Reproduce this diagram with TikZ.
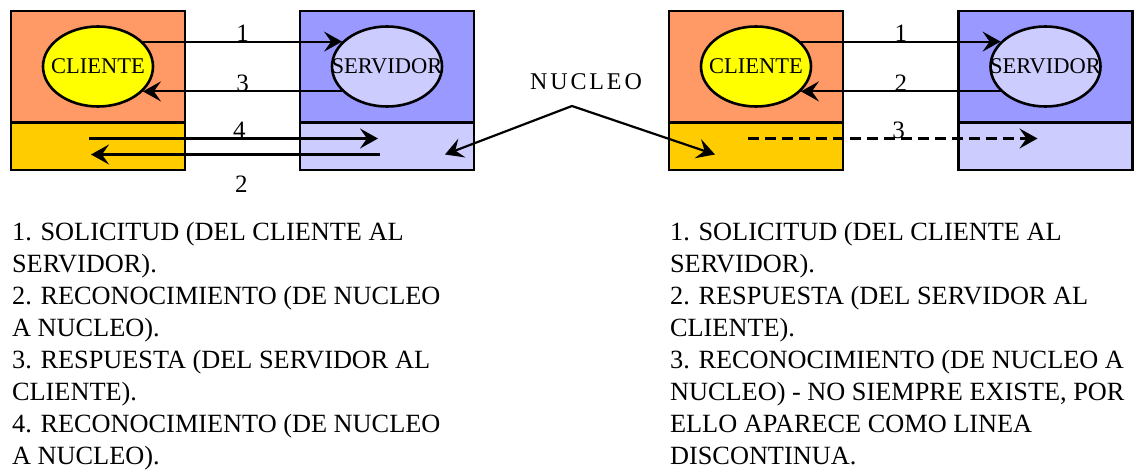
\documentclass[tikz,border=0pt]{standalone}
\usepackage{fontspec}
\setmainfont{Liberation Serif}
\newfontfamily\spacedserif[LetterSpace=12]{Liberation Serif}
\usepackage{tikz}
\usetikzlibrary{shapes.geometric,arrows.meta}
\definecolor{procOrange}{RGB}{255,153,102}
\definecolor{kerYellow}{RGB}{255,204,0}
\definecolor{procBlue}{RGB}{153,153,255}
\definecolor{paleBlue}{RGB}{204,204,255}
\definecolor{cliYellow}{RGB}{255,255,0}

\begin{document}
\begin{tikzpicture}[x=1pt, y=-1pt, line width=2.2pt,
  box/.style={draw, line width=2.6pt, minimum width=174pt, inner sep=0pt},
  upbox/.style={box, minimum height=111pt},
  lowbox/.style={box, minimum height=47pt},
  proc/.style={ellipse, draw, line width=2.6pt, minimum width=110pt, minimum height=80pt, inner sep=0pt, font=\fontsize{22.5}{22.5}\selectfont},
  msg/.style={-{Stealth[length=18pt,width=20pt,inset=7pt]}},
  msgboth/.style={{Stealth[length=18pt,width=20pt,inset=7pt]}-{Stealth[length=18pt,width=20pt,inset=7pt]}},
  num/.style={font=\fontsize{25}{25}\selectfont, inner sep=0pt},
  notes/.style={anchor=north west, align=left, inner sep=0pt, font=\fontsize{26.3}{32}\selectfont}]
  \useasboundingbox (0,0) rectangle (1136,471);

  % left: four messages
  \node[upbox, fill=procOrange] (cliA) at (98,66.5) {};
  \node[lowbox, fill=kerYellow] (kerCA) at (98,146.5) {};
  \node[upbox, fill=procBlue] (srvA) at (387,66.5) {};
  \node[lowbox, fill=paleBlue] (kerSA) at (387,146.5) {};
  \node[proc, fill=cliYellow] (procCA) at (cliA.center) {\makebox[0pt]{CLIENTE}};
  \node[proc, fill=paleBlue] (procSA) at (srvA.center) {\makebox[0pt]{SERVIDOR}};
  \draw[msg] (procCA.29) -- node[num, anchor=base] {1} (procSA.151);
  \draw[msg] (procSA.-151) -- node[num, anchor=base] {3} (procCA.-29);
  \draw[msg] ([xshift=-9pt,yshift=8pt]kerCA.center) -- node[num, anchor=base, pos=0.52] {4} ([xshift=-9pt,yshift=8pt]kerSA.center);
  \draw[msg] ([xshift=-7pt,yshift=-8pt]kerSA.center) -- node[num, below=20pt, pos=0.48] {2} ([xshift=-7pt,yshift=-8pt]kerCA.center);

  % right: three messages
  \node[upbox, fill=procOrange] (cliB) at (756,66.5) {};
  \node[lowbox, fill=kerYellow] (kerCB) at (756,146.5) {};
  \node[upbox, fill=procBlue] (srvB) at (1045.5,66.5) {};
  \node[lowbox, fill=paleBlue] (kerSB) at (1045.5,146.5) {};
  \node[proc, fill=cliYellow] (procCB) at (cliB.center) {\makebox[0pt]{CLIENTE}};
  \node[proc, fill=paleBlue] (procSB) at (srvB.center) {\makebox[0pt]{SERVIDOR}};
  \draw[msg] (procCB.29) -- node[num, anchor=base] {1} (procSB.151);
  \draw[msg] (procSB.-151) -- node[num, anchor=base] {2} (procCB.-29);
  \draw[msg, dash pattern=on 11pt off 6pt] ([xshift=-8pt,yshift=8pt]kerCB.center) -- node[num, anchor=base, pos=0.52] {3} ([xshift=-8pt,yshift=8pt]kerSB.center);

  \node[font=\spacedserif\fontsize{24}{24}\selectfont, inner sep=0pt] (nucleo) at (586,82) {NUCLEO};
  \coordinate (nucApex) at (572,106);
  \draw[msgboth] ([xshift=58pt,yshift=-8pt]kerSA.center) -- (nucApex) -- ([xshift=-41pt,yshift=-8pt]kerCB.center);

  \node[notes] (notesA) at (11,221) {1. SOLICITUD (DEL CLIENTE AL\\ SERVIDOR).\\ 2. RECONOCIMIENTO (DE NUCLEO\\ A NUCLEO).\\ 3. RESPUESTA (DEL SERVIDOR AL\\ CLIENTE).\\ 4. RECONOCIMIENTO (DE NUCLEO\\ A NUCLEO).};
  \node[notes] (notesB) at (669,221) {1. SOLICITUD (DEL CLIENTE AL\\ SERVIDOR).\\ 2. RESPUESTA (DEL SERVIDOR AL\\ CLIENTE).\\ 3. RECONOCIMIENTO (DE NUCLEO A\\ NUCLEO) - NO SIEMPRE EXISTE, POR\\ ELLO APARECE COMO LINEA\\ DISCONTINUA.};
\end{tikzpicture}
\end{document}
